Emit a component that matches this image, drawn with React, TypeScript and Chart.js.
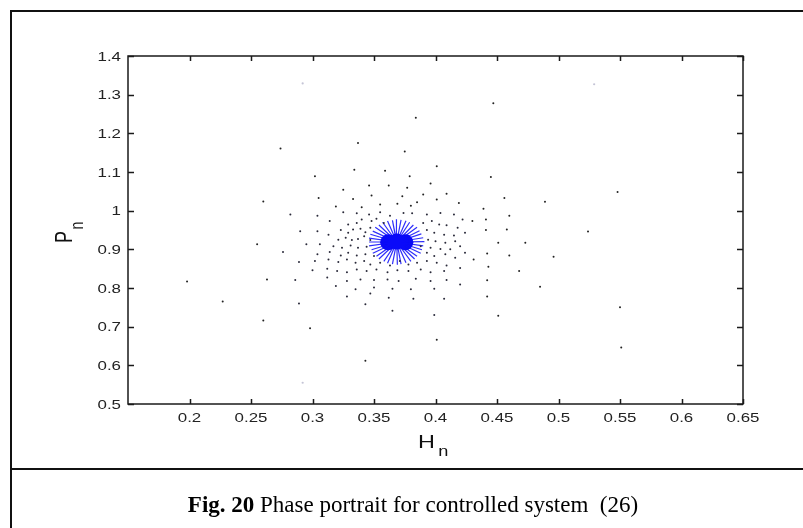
import React, { useEffect, useRef } from 'react';
import { Chart, registerables } from 'chart.js';

Chart.register(...registerables);

// Axis ranges and ticks
const xRange = [0.15, 0.65];
const yRange = [0.5, 1.4];
const xTickValues = [0.2, 0.25, 0.3, 0.35, 0.4, 0.45, 0.5, 0.55, 0.6, 0.65];
const xTickLabels = ['0.2', '0.25', '0.3', '0.35', '0.4', '0.45', '0.5', '0.55', '0.6', '0.65'];
const yTickValues = [0.5, 0.6, 0.7, 0.8, 0.9, 1.0, 1.1, 1.2, 1.3, 1.4];
const yTickLabels = ['0.5', '0.6', '0.7', '0.8', '0.9', '1', '1.1', '1.2', '1.3', '1.4'];

const xTitle = 'H';
const yTitle = 'P';
const subscript = 'n';
const captionBold = 'Fig. 20';
const captionText = ' Phase portrait for controlled system  (26)';

// Sparse outer iterates (H_n, P_n)
const sparseH = [
  0.447, 0.384, 0.274, 0.445, 0.548, 0.260, 0.524, 0.255, 0.198, 0.263, 0.227, 0.550, 0.260, 0.551, 0.298,
  0.337, 0.302, 0.334, 0.375, 0.359, 0.401, 0.379,
  0.346, 0.362, 0.377, 0.396, 0.325, 0.305, 0.333, 0.348, 0.373, 0.390, 0.409, 0.456, 0.489, 0.319,
  0.340, 0.355, 0.369, 0.380, 0.385, 0.401, 0.419, 0.439, 0.460, 0.441, 0.430, 0.441, 0.458, 0.451,
  0.473, 0.431, 0.442, 0.460, 0.496, 0.443, 0.468, 0.442, 0.485, 0.442, 0.451, 0.401, 0.343,
];
const sparseP = [
  1.278, 1.240, 1.161, 1.087, 1.048, 1.024, 0.946, 0.913, 0.817, 0.822, 0.765, 0.750, 0.716, 0.646, 0.696,
  1.175, 1.089, 1.106, 1.153, 1.103, 1.115, 1.089,
  1.065, 1.065, 1.059, 1.070, 1.054, 1.033, 1.030, 1.039, 1.037, 1.042, 1.044, 1.033, 1.023, 1.011,
  1.009, 1.016, 1.018, 1.013, 1.022, 1.029, 1.020, 1.005, 0.987, 0.977, 0.973, 0.950, 0.951, 0.917,
  0.917, 0.874, 0.889, 0.884, 0.881, 0.855, 0.844, 0.820, 0.803, 0.778, 0.728, 0.666, 0.612,
];

// Denser iterates around the focus
const ringH = [
  0.282, 0.304, 0.325, 0.336, 0.346, 0.355, 0.363, 0.374, 0.381, 0.393, 0.404, 0.415, 0.422,
  0.314, 0.329, 0.336, 0.340, 0.348, 0.352, 0.358, 0.390, 0.397, 0.403, 0.409, 0.418,
  0.290, 0.304, 0.323, 0.329, 0.333, 0.339, 0.343, 0.347, 0.393, 0.399, 0.407, 0.415, 0.424,
  0.313, 0.321, 0.327, 0.332, 0.337, 0.342, 0.347, 0.394, 0.400, 0.408, 0.416,
  0.295, 0.306, 0.317, 0.324, 0.331, 0.337, 0.344, 0.388, 0.396, 0.404, 0.412, 0.420, 0.424,
  0.276, 0.304, 0.314, 0.323, 0.329, 0.336, 0.343, 0.350, 0.393, 0.399, 0.408, 0.416,
  0.289, 0.302, 0.313, 0.321, 0.328, 0.335, 0.342, 0.347, 0.355, 0.363, 0.371, 0.378, 0.385, 0.393, 0.401, 0.409, 0.420,
  0.300, 0.312, 0.320, 0.328, 0.336, 0.344, 0.352, 0.361, 0.369, 0.378, 0.388, 0.396, 0.407,
  0.286, 0.312, 0.328, 0.339, 0.350, 0.361, 0.370, 0.384, 0.396, 0.409, 0.420,
  0.319, 0.335, 0.350, 0.365, 0.380, 0.399,
  0.328, 0.347, 0.362, 0.382, 0.407,
  0.289, 0.343, 0.365, 0.399,
];
const ringP = [
  0.990, 0.987, 0.996, 0.993, 0.990, 0.996, 0.987, 0.994, 0.993, 0.990, 0.994, 0.990, 0.977,
  0.973, 0.964, 0.968, 0.977, 0.973, 0.979, 0.968, 0.968, 0.973, 0.964, 0.962, 0.956,
  0.947, 0.947, 0.950, 0.943, 0.951, 0.953, 0.944, 0.956, 0.950, 0.943, 0.938, 0.936, 0.943,
  0.938, 0.925, 0.930, 0.924, 0.927, 0.934, 0.924, 0.925, 0.921, 0.917, 0.921,
  0.913, 0.913, 0.908, 0.904, 0.910, 0.904, 0.907, 0.908, 0.904, 0.901, 0.900, 0.908, 0.891,
  0.893, 0.887, 0.893, 0.884, 0.891, 0.884, 0.887, 0.883, 0.891, 0.883, 0.887, 0.878,
  0.867, 0.870, 0.874, 0.867, 0.874, 0.865, 0.870, 0.861, 0.865, 0.858, 0.870, 0.861, 0.865, 0.870, 0.865, 0.858, 0.852,
  0.846, 0.850, 0.844, 0.841, 0.848, 0.844, 0.848, 0.841, 0.846, 0.844, 0.848, 0.841, 0.844,
  0.821, 0.827, 0.818, 0.822, 0.821, 0.822, 0.818, 0.824, 0.818, 0.821, 0.809,
  0.805, 0.797, 0.801, 0.798, 0.797, 0.798,
  0.778, 0.786, 0.775, 0.772, 0.772,
  0.760, 0.758, 0.741, 0.730,
];

// Very faint iterates
const faintH = [0.292, 0.529, 0.292];
const faintP = [1.329, 1.327, 0.555];

// Focus (equilibrium) and the converging spokes of the trajectory
const focusH = 0.3685;
const focusP = 0.919;
const spokeTipH = [
  0.391, 0.390, 0.3885, 0.387, 0.385, 0.382, 0.379, 0.376, 0.372, 0.368, 0.365, 0.361,
  0.357, 0.354, 0.351, 0.349, 0.347, 0.346, 0.346, 0.346, 0.348, 0.349, 0.352, 0.354,
  0.358, 0.361, 0.365, 0.369, 0.372, 0.376, 0.380, 0.383, 0.385, 0.388, 0.389, 0.390,
];
const spokeTipP = [
  0.920, 0.930, 0.940, 0.948, 0.957, 0.963, 0.970, 0.974, 0.976, 0.978, 0.975, 0.973,
  0.970, 0.963, 0.957, 0.947, 0.939, 0.929, 0.919, 0.909, 0.899, 0.890, 0.882, 0.875,
  0.869, 0.864, 0.862, 0.860, 0.862, 0.865, 0.869, 0.875, 0.882, 0.890, 0.899, 0.909,
];
const coreH = [0.3615, 0.3685, 0.3755];
const coreP = [0.918, 0.920, 0.918];

const pairs = (h: number[], p: number[]) => h.map((v, i) => ({ x: v, y: p[i] }));

const framePlugin = {
  id: 'matlabFrame',
  afterDatasetsDraw(chart: any) {
    const { ctx, chartArea: a, scales } = chart;
    const xs = scales.x;
    const ys = scales.y;
    ctx.save();
    ctx.strokeStyle = '#1a1a1a';
    ctx.lineWidth = 1.5;
    ctx.strokeRect(a.left, a.top, a.right - a.left, a.bottom - a.top);
    ctx.beginPath();
    xTickValues.forEach((v) => {
      const px = Math.round(xs.getPixelForValue(v)) + 0.5;
      ctx.moveTo(px, a.bottom);
      ctx.lineTo(px, a.bottom - 5);
      ctx.moveTo(px, a.top);
      ctx.lineTo(px, a.top + 5);
    });
    yTickValues.forEach((v) => {
      const py = Math.round(ys.getPixelForValue(v)) + 0.5;
      ctx.moveTo(a.left, py);
      ctx.lineTo(a.left + 6, py);
      ctx.moveTo(a.right, py);
      ctx.lineTo(a.right - 6, py);
    });
    ctx.stroke();

    ctx.fillStyle = '#222';
    ctx.font = '13px "Liberation Sans", Arial, sans-serif';
    ctx.textBaseline = 'alphabetic';
    xTickValues.forEach((v, i) => {
      const px = xs.getPixelForValue(v);
      ctx.save();
      ctx.translate(px, a.bottom + 18);
      ctx.scale(1.3, 1);
      ctx.textAlign = 'center';
      ctx.fillText(xTickLabels[i], 0, 0);
      ctx.restore();
    });
    yTickValues.forEach((v, i) => {
      const py = ys.getPixelForValue(v);
      ctx.save();
      ctx.translate(a.left - 7, py + 4.6);
      ctx.scale(1.3, 1);
      ctx.textAlign = 'right';
      ctx.fillText(yTickLabels[i], 0, 0);
      ctx.restore();
    });

    // x title H_n
    ctx.fillStyle = '#111';
    ctx.save();
    ctx.translate(418, 448);
    ctx.scale(1.3, 1);
    ctx.textAlign = 'left';
    ctx.font = '18px "Liberation Sans", Arial, sans-serif';
    ctx.fillText(xTitle, 0, 0);
    const wH = ctx.measureText(xTitle).width;
    ctx.font = '14px "Liberation Sans", Arial, sans-serif';
    ctx.fillText(subscript, wH + 2.5, 8);
    ctx.restore();

    // y title P_n
    ctx.save();
    ctx.translate(72, 243);
    ctx.scale(1.35, 1);
    ctx.rotate(-Math.PI / 2);
    ctx.textAlign = 'left';
    ctx.font = '18px "Liberation Sans", Arial, sans-serif';
    ctx.fillText(yTitle, 0, 0);
    const wP = ctx.measureText(yTitle).width;
    ctx.font = '14px "Liberation Sans", Arial, sans-serif';
    ctx.fillText(subscript, wP + 1.5, 8);
    ctx.restore();

    ctx.restore();
  },
};

export default function App() {
  const canvasRef = useRef<HTMLCanvasElement | null>(null);

  useEffect(() => {
    const canvas = canvasRef.current;
    if (!canvas) return;
    const spokes: { x: number; y: number }[] = [];
    spokeTipH.forEach((h, i) => {
      spokes.push({ x: focusH, y: focusP });
      spokes.push({ x: h, y: spokeTipP[i] });
    });
    const chart = new Chart(canvas, {
      type: 'scatter',
      data: {
        datasets: [
          {
            label: 'faint',
            data: pairs(faintH, faintP),
            pointRadius: 1.1,
            backgroundColor: '#c4c4d6',
            borderWidth: 0,
          },
          {
            label: 'sparse',
            data: pairs(sparseH, sparseP),
            pointRadius: 1,
            backgroundColor: '#222',
            borderWidth: 0,
          },
          {
            label: 'ring',
            data: pairs(ringH, ringP),
            pointRadius: 1,
            backgroundColor: '#2a2a3a',
            borderWidth: 0,
          },
          {
            label: 'spokes',
            data: spokes,
            showLine: true,
            pointRadius: 0,
            borderColor: 'rgba(10,10,250,0.85)',
            borderWidth: 1.2,
          },
          {
            label: 'core',
            data: pairs(coreH, coreP),
            pointRadius: 8,
            backgroundColor: '#0a0af2',
            borderWidth: 0,
          },
        ],
      } as any,
      options: {
        responsive: false,
        animation: false,
        events: [],
        layout: { padding: { left: 128, top: 56, right: 60, bottom: 124 } },
        plugins: { legend: { display: false }, tooltip: { enabled: false } },
        scales: {
          x: { type: 'linear', min: xRange[0], max: xRange[1], display: false },
          y: { type: 'linear', min: yRange[0], max: yRange[1], display: false },
        },
      } as any,
      plugins: [framePlugin],
    });
    return () => chart.destroy();
  }, []);

  return (
    <div style={{ position: 'fixed', left: 0, top: 0, width: 803, height: 528, background: '#fff', overflow: 'hidden' }}>
      <canvas ref={canvasRef} width={803} height={528} style={{ position: 'absolute', left: 0, top: 0, width: 803, height: 528 }} />
      <div style={{ position: 'absolute', left: 10, top: 10, width: 800, height: 2, background: '#111' }} />
      <div style={{ position: 'absolute', left: 10, top: 10, width: 2, height: 520, background: '#111' }} />
      <div style={{ position: 'absolute', left: 10, top: 468, width: 800, height: 2, background: '#111' }} />
      <div
        style={{
          position: 'absolute',
          left: 10,
          top: 493,
          width: 806,
          textAlign: 'center',
          fontFamily: '"Liberation Serif", "Times New Roman", serif',
          fontSize: 23,
          lineHeight: '23px',
          whiteSpace: 'pre',
          color: '#000',
        }}
      >
        <b>{captionBold}</b>
        {captionText}
      </div>
    </div>
  );
}
